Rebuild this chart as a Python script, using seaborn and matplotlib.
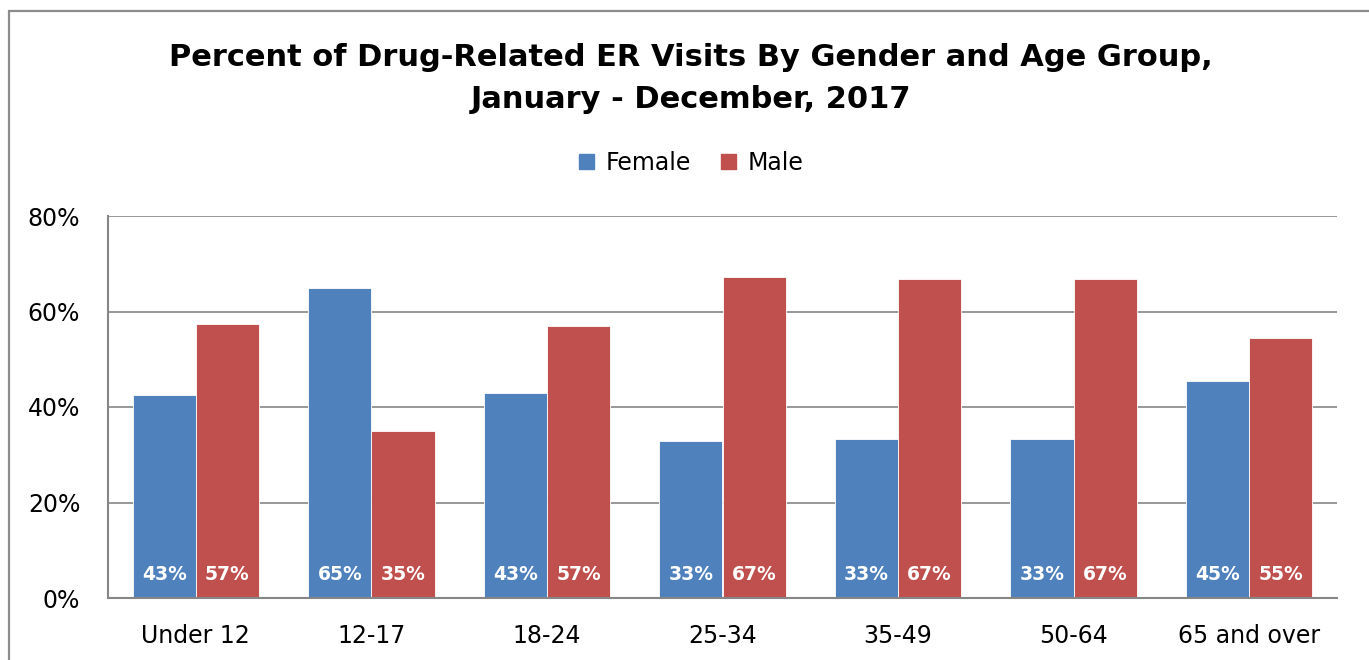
import numpy as np
import pandas as pd
import matplotlib.pyplot as plt
import seaborn as sns
from matplotlib.patches import Rectangle

# data
age_groups = ["Under 12", "12-17", "18-24", "25-34", "35-49", "50-64", "65 and over"]
female_pct = [42.6, 65.0, 43.0, 32.8, 33.2, 33.2, 45.5]
male_pct = [57.4, 35.0, 57.0, 67.2, 66.8, 66.8, 54.5]
female_labels = ["43%", "65%", "43%", "33%", "33%", "33%", "45%"]
male_labels = ["57%", "35%", "57%", "67%", "67%", "67%", "55%"]

df = pd.DataFrame({
    "Age": age_groups * 2,
    "Gender": ["Female"] * len(age_groups) + ["Male"] * len(age_groups),
    "Percent": female_pct + male_pct,
})

sns.set_style("white")
plt.rcParams['font.family'] = ['DejaVu Sans']
plt.rcParams['text.color'] = 'black'
plt.rcParams['xtick.color'] = 'black'
plt.rcParams['ytick.color'] = 'black'

fig = plt.figure(figsize=(13.69, 6.6), dpi=100)
ax = fig.add_axes([108/1369, 62/660, (1337-108)/1369, (598-216)/660])

sns.barplot(data=df, x="Age", y="Percent", hue="Gender",
            palette={"Female": "#4F81BD", "Male": "#C0504D"}, saturation=1,
            width=0.72, edgecolor="white", linewidth=0.6, ax=ax, legend=False)

ax.set_ylim(0, 80)
ax.set_yticks([0, 20, 40, 60, 80])
ax.set_yticklabels(["0%", "20%", "40%", "60%", "80%"], fontsize=17)
ax.set_xlim(-0.5, len(age_groups) - 0.5)
ax.tick_params(axis="x", labelsize=17, length=0, pad=19)
ax.tick_params(axis="y", length=0, pad=20)
ax.set_xlabel("")
ax.set_ylabel("")
ax.yaxis.grid(True, color="#868686", linewidth=1.2)
ax.set_axisbelow(True)
for s in ["top", "right"]:
    ax.spines[s].set_visible(False)
for s in ["left", "bottom"]:
    ax.spines[s].set_color("#868686")
    ax.spines[s].set_linewidth(1.5)

# value labels at the foot of each bar
for cont, labels in zip(ax.containers, [female_labels, male_labels]):
    for bar, lab in zip(cont, labels):
        ax.annotate(lab, xy=(bar.get_x() + bar.get_width() / 2, 0),
                    xytext=(0, 17), textcoords="offset points",
                    ha="center", va="center", color="white",
                    fontsize=13.5, fontweight="bold")

# legend
handles = [Rectangle((0, 0), 1, 1, color="#4F81BD"),
           Rectangle((0, 0), 1, 1, color="#C0504D")]
fig.legend(handles, ["Female", "Male"], loc="center", bbox_to_anchor=(0.505, 1 - 163/660),
           ncol=2, frameon=False, fontsize=17, handlelength=0.6, handleheight=0.6,
           handletextpad=0.5, columnspacing=1.3)

fig.text(0.505, 1 - 57/660, "Percent of Drug-Related ER Visits By Gender and Age Group,",
         ha="center", va="center", fontsize=22, fontweight="bold")
fig.text(0.505, 1 - 100/660, "January - December, 2017",
         ha="center", va="center", fontsize=22, fontweight="bold")

# outer chart border
fig.patches.append(Rectangle((9/1369, -0.1), 1.2, 1 - 11/660 + 0.1,
                             transform=fig.transFigure, fill=False,
                             edgecolor="#8c8c8c", linewidth=1.6))

fig.savefig("out.png", dpi=100)
